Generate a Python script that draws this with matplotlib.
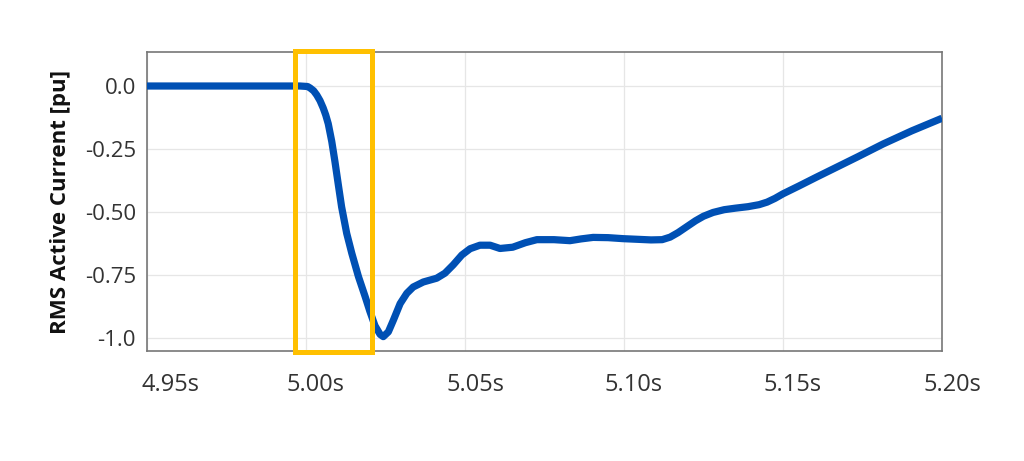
import matplotlib
matplotlib.use("Agg")
import matplotlib.pyplot as plt
import matplotlib.transforms as mtransforms
from matplotlib.patches import Rectangle

# Data
time_s = [4.95, 4.97, 4.99, 4.9981, 5.0005, 5.0013, 5.0024, 5.0034, 5.0044, 5.0054, 5.0062,
          5.0070, 5.0081, 5.0091, 5.0102, 5.0112, 5.0128, 5.0144, 5.0165, 5.0186, 5.0201,
          5.0217, 5.0233, 5.0243, 5.0259, 5.0275, 5.0296, 5.0317, 5.0337, 5.0369, 5.0411,
          5.0437, 5.0463, 5.0490, 5.0516, 5.0547, 5.0579, 5.0610, 5.065, 5.069, 5.0726,
          5.078, 5.083, 5.0865, 5.0903, 5.095, 5.0997, 5.105, 5.1085, 5.112, 5.1145,
          5.117, 5.1198, 5.1225, 5.125, 5.128, 5.1315, 5.135, 5.139, 5.1425, 5.145,
          5.1475, 5.150, 5.155, 5.1605, 5.1658, 5.1735, 5.1815, 5.1905, 5.20]
current_pu = [0.0, 0.0, 0.0, 0.0, -0.002, -0.008, -0.019, -0.036, -0.058, -0.087, -0.115,
              -0.150, -0.220, -0.300, -0.395, -0.480, -0.585, -0.664, -0.757, -0.836, -0.895,
              -0.952, -0.986, -0.995, -0.976, -0.929, -0.864, -0.823, -0.798, -0.778, -0.763,
              -0.743, -0.710, -0.671, -0.646, -0.632, -0.632, -0.645, -0.640, -0.622, -0.610,
              -0.610, -0.614, -0.607, -0.601, -0.602, -0.606, -0.609, -0.611, -0.610, -0.600,
              -0.582, -0.558, -0.535, -0.517, -0.502, -0.491, -0.485, -0.479, -0.471, -0.461,
              -0.446, -0.428, -0.397, -0.362, -0.329, -0.281, -0.230, -0.178, -0.128]
x_ticks = [4.95, 5.00, 5.05, 5.10, 5.15, 5.20]
x_tick_labels = ["4.95s", "5.00s", "5.05s", "5.10s", "5.15s", "5.20s"]
y_ticks = [0.0, -0.25, -0.50, -0.75, -1.0]
y_tick_labels = ["0.0", "-0.25", "-0.50", "-0.75", "-1.0"]
highlight_t = [4.9965, 5.0207]
highlight_y = [-1.054, 0.137]

plt.rcParams['font.family'] = ['Open Sans', 'DejaVu Sans']

fig = plt.figure(figsize=(10.24, 4.61), dpi=100)
ax = fig.add_axes([147/1024, 1 - 351/461, (942-147)/1024, (351-52)/461])

ax.set_xlim(4.95, 5.20)
ax.set_ylim(-1.052, 0.135)

ax.grid(True, color="#e6e6e6", linewidth=0.9)
ax.set_axisbelow(True)

ax.plot(time_s, current_pu, color="#0050b4", linewidth=5.2, solid_capstyle="butt",
        solid_joinstyle="round", antialiased=True, zorder=3)

rect = Rectangle((highlight_t[0], highlight_y[0]), highlight_t[1] - highlight_t[0],
                 highlight_y[1] - highlight_y[0], fill=False, edgecolor="#ffc000",
                 linewidth=3.6, clip_on=False, zorder=4)
ax.add_patch(rect)

ax.set_xticks(x_ticks)
ax.set_xticklabels(x_tick_labels)
ax.set_yticks(y_ticks)
ax.set_yticklabels(y_tick_labels)
ax.tick_params(axis="both", length=0, colors="#333333")
ax.tick_params(axis="x", labelsize=17, pad=16)
ax.tick_params(axis="y", labelsize=16, pad=8)
for i, lbl in enumerate(ax.get_xticklabels()):
    dx = 23 if i == 0 else 10
    off = mtransforms.ScaledTranslation(dx/100, 0, fig.dpi_scale_trans)
    lbl.set_transform(lbl.get_transform() + off)

for s in ax.spines.values():
    s.set_color("#777777")
    s.set_linewidth(1.2)

ax.set_ylabel("RMS Active Current [pu]", fontsize=16, fontweight="bold", color="#111111",
              labelpad=10)

fig.savefig("out.png", dpi=100, facecolor="white")
